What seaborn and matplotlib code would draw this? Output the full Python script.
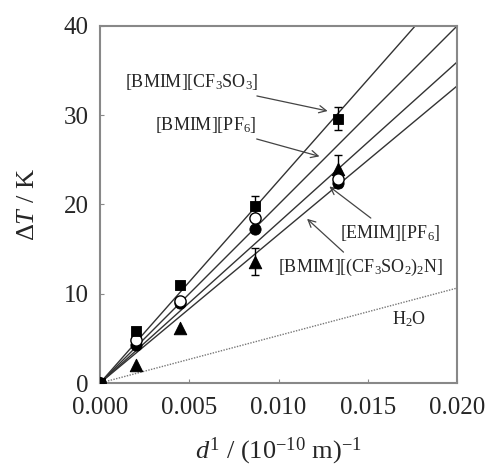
import numpy as np
import pandas as pd
import matplotlib
matplotlib.use("Agg")
import matplotlib.pyplot as plt
import seaborn as sns

# data
d_inv = [0.0, 0.002, 0.0045, 0.0087, 0.0133]
dT_cf3so3 = [0.0, 5.8, 11.0, 19.8, 29.6]
dT_bmim_pf6 = [0.0, 4.8, 9.2, 18.5, 22.9]
dT_emim_pf6 = [0.0, 4.3, 9.0, 17.2, 22.4]
dT_tf2n = [0.0, 2.0, 6.2, 13.6, 24.0]
err_x = [0.0087, 0.0133]
err_cf3so3 = [1.2, 1.3]
err_tf2n = [1.5, 1.5]
err_pf6 = [0.9, 0.9]

fit_slopes = [2266, 2000, 1798, 1664]
h2o_slope = 532

sns.set_style("ticks")
plt.rcParams['font.family'] = ['Liberation Serif', 'DejaVu Serif']
plt.rcParams['mathtext.fontset'] = 'custom'
plt.rcParams['mathtext.rm'] = 'Liberation Serif'
plt.rcParams['mathtext.it'] = 'Liberation Serif:italic'

fig = plt.figure(figsize=(4.9, 4.7), dpi=100)
ax = fig.add_axes([0.204, 0.185, 0.729, 0.76])

xx = np.array([0.0, 0.02])
for s in fit_slopes:
    sns.lineplot(x=xx, y=s * xx, ax=ax, color="#333333", lw=1.0)
sns.lineplot(x=xx, y=h2o_slope * xx, ax=ax, color="#777777", lw=1.0, linestyle=(0, (1, 1)))

ax.errorbar(err_x, dT_cf3so3[3:], yerr=err_cf3so3, fmt="none", ecolor="black", capsize=3, lw=1)
ax.errorbar(err_x, dT_tf2n[3:], yerr=err_tf2n, fmt="none", ecolor="black", capsize=3, lw=1)
ax.errorbar(err_x, dT_bmim_pf6[3:], yerr=err_pf6, fmt="none", ecolor="black", capsize=3, lw=1)

sns.scatterplot(x=d_inv, y=dT_emim_pf6, ax=ax, marker="o", s=65, color="black", edgecolor="black", zorder=5)
sns.scatterplot(x=d_inv, y=dT_bmim_pf6, ax=ax, marker="o", s=65, facecolor="white", edgecolor="black", linewidth=1, zorder=6)
sns.scatterplot(x=d_inv, y=dT_tf2n, ax=ax, marker="^", s=80, color="black", edgecolor="black", zorder=5)
sns.scatterplot(x=d_inv, y=dT_cf3so3, ax=ax, marker="s", s=60, color="black", edgecolor="black", zorder=7)

arrow = dict(arrowstyle="->", color="#444444", lw=0.9)
fs = 13
ax.annotate(r"[BMIM][CF$_3$SO$_3$]", xy=(0.0129, 30.4), xytext=(0.0014, 33.7),
            fontsize=fs, va="center", arrowprops=arrow)
ax.annotate(r"[BMIM][PF$_6$]", xy=(0.01244, 25.3), xytext=(0.0031, 28.9),
            fontsize=fs, va="center", arrowprops=arrow)
ax.annotate(r"[EMIM][PF$_6$]", xy=(0.01272, 22.2), xytext=(0.01345, 16.8),
            fontsize=fs, va="center", arrowprops=arrow)
ax.annotate(r"[BMIM][(CF$_3$SO$_2$)$_2$N]", xy=(0.01148, 18.6), xytext=(0.00997, 12.9),
            fontsize=fs, va="center", arrowprops=arrow)
ax.text(0.01636, 7.1, r"H$_2$O", fontsize=fs, va="center")

ax.set_xlim(0, 0.02)
ax.set_ylim(0, 40)
ax.set_xticks([0, 0.005, 0.01, 0.015, 0.02])
ax.set_xticklabels(["0.000", "0.005", "0.010", "0.015", "0.020"])
ax.set_yticks([0, 10, 20, 30, 40])
ax.tick_params(direction="in", length=3, labelsize=18, color="#888888")
ax.tick_params(axis="x", pad=10)
ax.tick_params(axis="y", pad=8)
for sp in ax.spines.values():
    sp.set_color("#888888")
    sp.set_linewidth(1.5)
ax.set_xlabel(r"$d^{1}$ / (10$^{-10}$ m)$^{-1}$", fontsize=19, labelpad=12)
ax.set_ylabel(r"$\Delta$$T$ / K", fontsize=19, labelpad=18)

fig.savefig("out.png", dpi=100)
